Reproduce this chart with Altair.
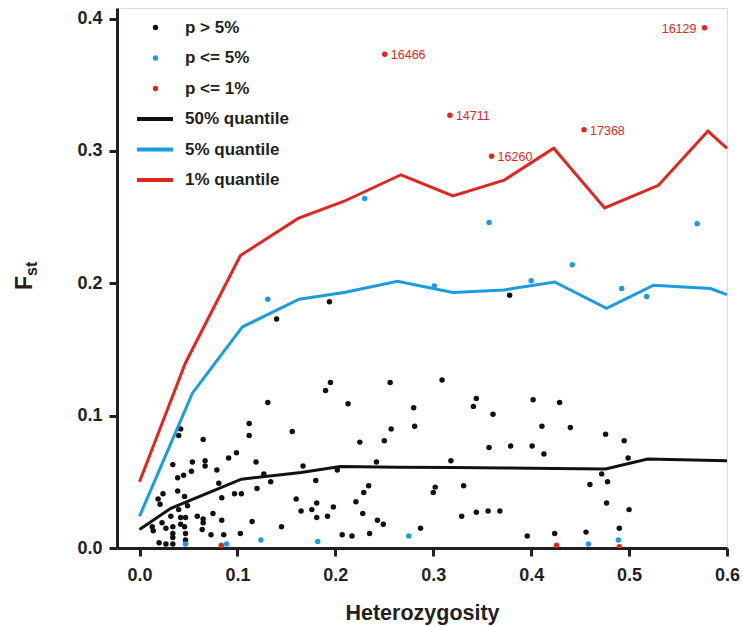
import altair as alt
import pandas as pd

# ---------------- data ----------------
black_x = [0.131, 0.112, 0.112, 0.156, 0.042, 0.040, 0.065, 0.099, 0.091, 0.054, 0.067, 0.067, 0.034,
           0.053, 0.045, 0.039, 0.079, 0.119, 0.081, 0.127, 0.134, 0.167, 0.120, 0.097, 0.104, 0.084,
           0.039, 0.024, 0.019, 0.021, 0.046, 0.049, 0.040, 0.160, 0.165, 0.059, 0.065, 0.075, 0.084,
           0.115, 0.145, 0.065, 0.064, 0.073, 0.086, 0.103, 0.032, 0.042, 0.047, 0.023, 0.013, 0.014,
           0.027, 0.034, 0.034, 0.042, 0.046, 0.047, 0.047, 0.034, 0.034, 0.020, 0.027,
           0.190, 0.195, 0.213, 0.256, 0.309, 0.280, 0.344, 0.341, 0.361, 0.281, 0.257, 0.225, 0.250,
           0.357, 0.379, 0.242, 0.318, 0.202, 0.180, 0.234, 0.229, 0.302, 0.300, 0.331, 0.221, 0.198,
           0.181, 0.176, 0.181, 0.192, 0.228, 0.243, 0.249, 0.329, 0.344, 0.356, 0.368, 0.207, 0.217,
           0.235, 0.287,
           0.402, 0.429, 0.411, 0.440, 0.476, 0.495, 0.401, 0.413, 0.499, 0.472, 0.478, 0.460, 0.477,
           0.500, 0.396, 0.424, 0.456, 0.490,
           0.140, 0.194, 0.378]
black_y = [0.110, 0.094, 0.085, 0.088, 0.090, 0.085, 0.082, 0.072, 0.068, 0.065, 0.066, 0.062, 0.063,
           0.058, 0.055, 0.053, 0.059, 0.065, 0.049, 0.056, 0.050, 0.062, 0.045, 0.041, 0.041, 0.038,
           0.043, 0.041, 0.037, 0.033, 0.039, 0.032, 0.029, 0.037, 0.028, 0.024, 0.022, 0.026, 0.021,
           0.020, 0.016, 0.019, 0.014, 0.010, 0.010, 0.011, 0.024, 0.023, 0.023, 0.019, 0.016, 0.013,
           0.015, 0.016, 0.011, 0.018, 0.016, 0.011, 0.006, 0.008, 0.003, 0.004, 0.003,
           0.119, 0.125, 0.109, 0.125, 0.127, 0.106, 0.113, 0.107, 0.101, 0.092, 0.090, 0.080, 0.081,
           0.076, 0.077, 0.065, 0.066, 0.059, 0.051, 0.047, 0.042, 0.046, 0.042, 0.047, 0.035, 0.031,
           0.034, 0.029, 0.023, 0.024, 0.026, 0.021, 0.018, 0.024, 0.027, 0.028, 0.028, 0.010, 0.009,
           0.011, 0.015,
           0.112, 0.110, 0.092, 0.091, 0.086, 0.081, 0.077, 0.071, 0.068, 0.056, 0.050, 0.048, 0.034,
           0.029, 0.009, 0.011, 0.012, 0.015,
           0.173, 0.186, 0.191]

blue_x = [0.131, 0.230, 0.301, 0.357, 0.400, 0.442, 0.4925, 0.518, 0.5695,
          0.047, 0.089, 0.124, 0.182, 0.275, 0.4585, 0.489]
blue_y = [0.188, 0.264, 0.198, 0.246, 0.202, 0.214, 0.196, 0.190, 0.245,
          0.003, 0.003, 0.006, 0.005, 0.009, 0.003, 0.006]

red_x = [0.0835, 0.426, 0.490]
red_y = [0.002, 0.002, 0.001]

lab_x = [0.577, 0.2505, 0.317, 0.454, 0.3596]
lab_y = [0.393, 0.373, 0.327, 0.316, 0.296]
lab_id = ["16129", "16466", "14711", "17368", "16260"]

q1_x = [0.0, 0.047, 0.103, 0.162, 0.209, 0.267, 0.320, 0.3725, 0.423, 0.475, 0.530, 0.5805, 0.6]
q1_y = [0.050, 0.140, 0.221, 0.249, 0.262, 0.282, 0.266, 0.278, 0.302, 0.257, 0.274, 0.315, 0.302]
q5_x = [0.0, 0.054, 0.105, 0.163, 0.209, 0.2635, 0.320, 0.3725, 0.424, 0.477, 0.525, 0.583, 0.6]
q5_y = [0.024, 0.117, 0.167, 0.188, 0.193, 0.2015, 0.193, 0.195, 0.201, 0.181, 0.1985, 0.196, 0.1915]
q50_x = [0.0, 0.032, 0.104, 0.165, 0.205, 0.265, 0.320, 0.373, 0.424, 0.476, 0.519, 0.6]
q50_y = [0.014, 0.030, 0.052, 0.057, 0.0615, 0.061, 0.0608, 0.0605, 0.060, 0.0597, 0.0672, 0.066]

p_cats = ["p > 5%", "p <= 5%", "p <= 1%"]
q_cats = ["50% quantile", "5% quantile", "1% quantile"]
BLACK, BLUE, RED = "#111111", "#1b9be0", "#e0261e"
colors = [BLACK, BLUE, RED]

# ---------------- tables ----------------
pts = pd.concat([
    pd.DataFrame({"x": black_x, "y": black_y, "cat": p_cats[0]}),
    pd.DataFrame({"x": blue_x, "y": blue_y, "cat": p_cats[1]}),
    pd.DataFrame({"x": red_x + lab_x, "y": red_y + lab_y, "cat": p_cats[2]}),
], ignore_index=True)

lines = pd.concat([
    pd.DataFrame({"x": q50_x, "y": q50_y, "q": q_cats[0]}),
    pd.DataFrame({"x": q5_x, "y": q5_y, "q": q_cats[1]}),
    pd.DataFrame({"x": q1_x, "y": q1_y, "q": q_cats[2]}),
], ignore_index=True)

labs = pd.DataFrame({"x": lab_x, "y": lab_y, "id": lab_id})

FONT = "Liberation Sans"
FRAME = "#231f20"

xscale = alt.Scale(domain=[-0.023, 0.6], nice=False, zero=False)
yscale = alt.Scale(domain=[0, 0.408], nice=False)

xenc = alt.X("x:Q", scale=xscale, axis=alt.Axis(
    values=[0, 0.1, 0.2, 0.3, 0.4, 0.5, 0.6], format=".1f", title="Heterozygosity",
    labelFont=FONT, labelFontSize=18, labelFontWeight="bold", labelColor=FRAME,
    labelPadding=10, titleFont=FONT, titleFontSize=21.5, titleFontWeight="bold",
    titleColor=FRAME, titlePadding=18, tickSize=8, tickWidth=3, tickColor=FRAME,
    domainWidth=3, domainColor=FRAME, grid=False, labelFlush=False))
yenc = alt.Y("y:Q", scale=yscale, axis=alt.Axis(
    values=[0, 0.1, 0.2, 0.3, 0.4], format=".1f", title=None,
    labelFont=FONT, labelFontSize=18, labelFontWeight="bold", labelColor=FRAME,
    labelPadding=7, tickSize=8, tickWidth=3, tickColor=FRAME,
    domainWidth=3, domainColor=FRAME, grid=False))

leg_common = dict(orient="none", title=None, labelFont=FONT, labelFontSize=17,
                  labelFontWeight="bold", labelColor=FRAME, padding=0)

p_legend = alt.Legend(legendX=20, legendY=11, symbolType="circle", symbolSize=28,
                      symbolOffset=10, labelOffset=21, symbolStrokeWidth=0,
                      symbolOpacity=1, rowPadding=12.5, **leg_common)
q_legend = alt.Legend(legendX=18, legendY=91, symbolType="stroke", symbolSize=1296,
                      symbolStrokeWidth=4, labelOffset=10, rowPadding=2.5, **leg_common)

pt_layer = alt.Chart(pts).mark_circle(size=30, opacity=1, clip=True).encode(
    x=xenc, y=yenc,
    color=alt.Color("cat:N", scale=alt.Scale(domain=p_cats, range=colors),
                    legend=p_legend, sort=p_cats),
)
line_layer = alt.Chart(lines).mark_line(strokeWidth=3).encode(
    x=xenc, y=yenc,
    stroke=alt.Stroke("q:N", scale=alt.Scale(domain=q_cats, range=colors),
                      legend=q_legend, sort=q_cats),
)
lab_right = alt.Chart(labs).transform_filter("datum.id != '16129'").mark_text(
    align="left", baseline="middle", dx=6, dy=1, font=FONT, fontSize=12.5, color=RED
).encode(x=alt.X("x:Q", scale=xscale), y=alt.Y("y:Q", scale=yscale), text="id:N")
lab_left = alt.Chart(labs).transform_filter("datum.id == '16129'").mark_text(
    align="right", baseline="middle", dx=-8, dy=1, font=FONT, fontSize=12.5, color=RED
).encode(x=alt.X("x:Q", scale=xscale), y=alt.Y("y:Q", scale=yscale), text="id:N")

f_main = alt.Chart(pd.DataFrame({"t": ["F"]})).mark_text(
    angle=270, align="left", baseline="alphabetic", font=FONT, fontSize=23,
    fontWeight="bold", color=FRAME
).encode(x=alt.value(-85), y=alt.value(282), text="t:N")
f_sub = alt.Chart(pd.DataFrame({"t": ["st"]})).mark_text(
    angle=270, align="left", baseline="alphabetic", font=FONT, fontSize=16,
    fontWeight="bold", color=FRAME
).encode(x=alt.value(-80), y=alt.value(268), text="t:N")

chart = alt.layer(pt_layer, line_layer, lab_right, lab_left, f_main, f_sub).resolve_scale(
    color="independent", stroke="independent"
).properties(
    width=610, height=540,
    autosize=alt.AutoSizeParams(type="none"),
    padding={"left": 117, "top": 8, "right": 16, "bottom": 79},
).configure_view(stroke=FRAME, strokeWidth=3).configure(background="white")

chart.save("out.html", embed_options={"renderer": "svg", "actions": False})
